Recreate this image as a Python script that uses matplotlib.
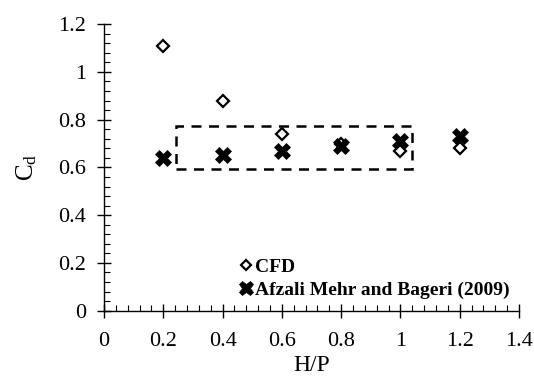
import matplotlib
matplotlib.use('Agg')
import matplotlib.pyplot as plt
from matplotlib.ticker import MultipleLocator
from matplotlib.patches import Rectangle

plt.rcParams['font.family'] = ['Liberation Serif', 'DejaVu Serif']
plt.rcParams['mathtext.fontset'] = 'custom'
plt.rcParams['mathtext.rm'] = 'Liberation Serif'
plt.rcParams['mathtext.it'] = 'Liberation Serif:italic'

hp = [0.2, 0.4, 0.6, 0.8, 1.0, 1.2]
cd_cfd = [1.11, 0.88, 0.74, 0.70, 0.67, 0.68]
cd_afzali = [0.64, 0.65, 0.67, 0.69, 0.71, 0.73]

x_ticks = [0, 0.2, 0.4, 0.6, 0.8, 1.0, 1.2, 1.4]
x_labels = ['0', '0.2', '0.4', '0.6', '0.8', '1', '1.2', '1.4']
y_ticks = [0, 0.2, 0.4, 0.6, 0.8, 1.0, 1.2]
y_labels = ['0', '0.2', '0.4', '0.6', '0.8', '1', '1.2']

# dashed box around the comparable range
box_x = [0.243, 1.04]
box_y = [0.595, 0.772]

fig = plt.figure(figsize=(5.34, 3.76), dpi=100)
ax = fig.add_axes([0.1948, 0.1737, 0.777, 0.762])

ax.plot(hp, cd_cfd, linestyle='none', marker='D', ms=6.5, mfc='white',
        mec='black', mew=1.6, label='CFD', zorder=3)
ax.plot(hp, cd_afzali, linestyle='none', marker='X', ms=12, mfc='black',
        mec='black', mew=0.5, label='Afzali Mehr and Bageri (2009)', zorder=4)

ax.add_patch(Rectangle((box_x[0], box_y[0]), box_x[1] - box_x[0], box_y[1] - box_y[0],
                       fill=False, ls=(0, (4, 3)), lw=1.8, ec='black', zorder=2))

ax.set_xlim(0, 1.4)
ax.set_ylim(0, 1.2)
ax.set_xticks(x_ticks, x_labels)
ax.set_yticks(y_ticks, y_labels)
ax.xaxis.set_minor_locator(MultipleLocator(0.04))
ax.yaxis.set_minor_locator(MultipleLocator(0.04))

for s in ['top', 'right']:
    ax.spines[s].set_visible(False)
for s in ['left', 'bottom']:
    ax.spines[s].set_linewidth(1.0)

ax.tick_params(which='major', direction='inout', length=10, width=1.0,
               labelsize=16, pad=10)
ax.tick_params(which='minor', direction='in', length=4.5, width=0.8)
ax.tick_params(axis='y', which='major', pad=8)

ax.set_xlabel('H/P', fontsize=17, labelpad=3)
ax.set_ylabel(r'$\mathrm{C_d}$', fontsize=18, labelpad=14)

leg = ax.legend(loc='lower left', bbox_to_anchor=(0.294, 0.0), frameon=False,
                prop={'weight': 'bold', 'size': 14}, handletextpad=0.0,
                handlelength=0.9, labelspacing=0.3, borderaxespad=0.2,
                markerscale=0.85)

fig.savefig('out.png', dpi=100)
